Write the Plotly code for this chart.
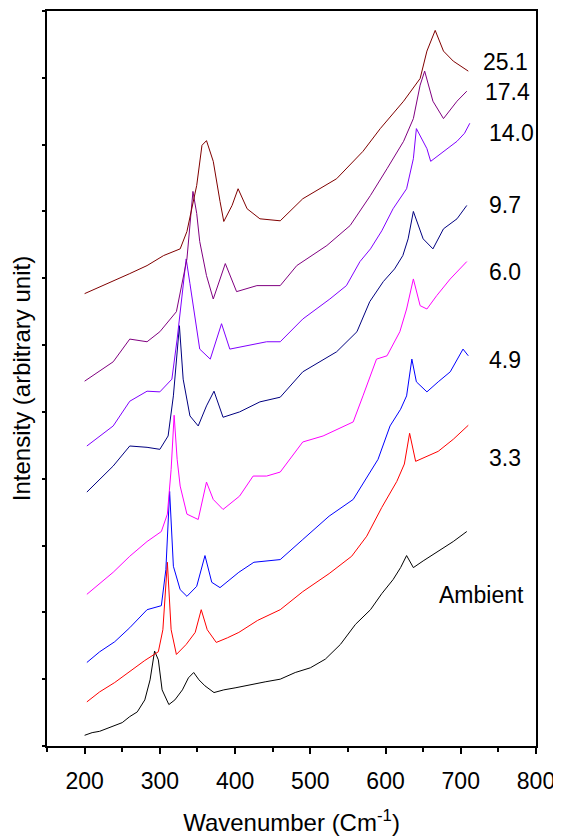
import plotly.graph_objects as go

# ---- data ----
labels = ["Ambient", "3.3", "4.9", "6.0", "9.7", "14.0", "17.4", "25.1"]
colors = ["#000000", "#FF0000", "#0000FF", "#FF00FF", "#000080", "#8000FF", "#800080", "#800000"]

amb_x = [200, 210, 220, 230, 240, 250, 260, 270, 280, 287, 293, 298, 303, 312, 320, 330, 338, 345, 352, 360,
         372, 385, 400, 420, 440, 460, 480, 500, 520, 540, 560, 580, 595, 610, 620, 628, 637, 650, 670, 690, 708]
amb_y = [16, 20, 22, 26, 30, 35, 44, 51, 69, 99, 142, 129, 84, 62, 69, 84, 102, 110, 99, 90,
         80, 84, 87, 92, 96, 100, 110, 117, 130, 152, 182, 204, 228, 249, 267, 285, 267, 277, 291, 306, 321]

p33_x = [203, 220, 240, 260, 280, 298, 304, 310, 315, 322, 335, 347, 355, 363, 375, 390, 405, 430, 460, 490,
         525, 555, 575, 595, 615, 625, 632, 640, 655, 670, 690, 710]
p33_y = [66, 81, 95, 111, 128, 141, 174, 275, 174, 137, 152, 170, 204, 174, 155, 162, 170, 188, 204, 231,
         258, 284, 314, 357, 396, 422, 468, 426, 434, 441, 459, 480]

p49_x = [203, 220, 240, 260, 283, 302, 308, 313, 318, 327, 336, 349, 360, 369, 380, 405, 425, 460, 490, 525,
         557, 575, 590, 606, 620, 628, 635, 641, 655, 670, 686, 703, 710]
p49_y = [125, 141, 156, 177, 204, 210, 264, 381, 269, 234, 224, 239, 285, 245, 237, 260, 275, 279, 309, 344,
         369, 401, 429, 479, 504, 524, 579, 545, 530, 545, 560, 594, 584]

p60_x = [203, 220, 238, 260, 283, 302, 310, 315, 319, 323, 327, 336, 351, 362, 371, 384, 406, 424, 442, 460,
         490, 517, 557, 570, 588, 602, 619, 628, 637, 646, 655, 668, 686, 708]
p60_y = [227, 243, 260, 284, 306, 321, 347, 414, 495, 429, 389, 347, 339, 395, 369, 354, 374, 404, 404, 410,
         455, 464, 485, 524, 579, 584, 620, 654, 699, 659, 654, 674, 699, 725]

p97_x = [203, 220, 238, 260, 283, 300, 311, 318, 322, 326, 331, 340, 351, 362, 372, 384, 406, 433, 460, 490,
         535, 562, 579, 597, 612, 623, 630, 637, 650, 663, 677, 695, 708]
p97_y = [380, 399, 419, 449, 447, 444, 464, 524, 579, 629, 549, 494, 479, 509, 531, 492, 500, 515, 522, 560,
         590, 620, 665, 695, 714, 734, 759, 800, 759, 744, 774, 789, 809]

p140_x = [203, 220, 238, 260, 283, 300, 316, 323, 328, 335, 340, 345, 353, 367, 382, 393, 415, 442, 460, 490,
          526, 548, 566, 580, 595, 610, 628, 637, 641, 648, 655, 660, 677, 695, 705, 712]
p140_y = [449, 464, 479, 516, 531, 530, 549, 609, 662, 729, 692, 654, 594, 579, 632, 594, 599, 605, 605, 639,
          669, 689, 725, 744, 771, 804, 834, 879, 924, 909, 894, 875, 890, 905, 917, 932]

p174_x = [200, 220, 238, 260, 283, 300, 322, 336, 344, 349, 353, 362, 371, 387, 402, 429, 460, 482, 522, 553,
          580, 602, 624, 637, 646, 652, 663, 677, 695, 708]
p174_y = [546, 561, 575, 609, 605, 620, 650, 729, 830, 797, 755, 704, 669, 722, 680, 689, 689, 719, 749, 779,
          824, 864, 905, 939, 989, 1010, 965, 939, 965, 980]

p251_x = [200, 220, 238, 260, 283, 305, 327, 336, 349, 356, 362, 371, 380, 385, 396, 404, 416, 433, 460, 490,
          535, 570, 593, 624, 646, 655, 666, 677, 690, 700, 710]
p251_y = [677, 687, 695, 707, 719, 734, 744, 770, 839, 899, 906, 875, 815, 785, 809, 834, 804, 789, 786, 819,
          849, 890, 924, 965, 999, 1040, 1071, 1040, 1025, 1017, 1010]

series_x = [amb_x, p33_x, p49_x, p60_x, p97_x, p140_x, p174_x, p251_x]
series_y = [amb_y, p33_y, p49_y, p60_y, p97_y, p140_y, p174_y, p251_y]

# label anchor positions (data coordinates)
label_x = [727, 759, 759, 759, 759, 767, 762, 759]
label_y = [226, 431, 578, 710, 810, 918, 979, 1024]

FONT = "Liberation Sans, Arial, sans-serif"

fig = go.Figure()
for name, c, xs, ys in zip(labels, colors, series_x, series_y):
    fig.add_trace(go.Scatter(x=xs, y=ys, mode="lines", name=name,
                             line=dict(color=c, width=1), showlegend=False))

for name, lx, ly in zip(labels, label_x, label_y):
    fig.add_annotation(x=lx, y=ly, text=name, showarrow=False,
                       font=dict(size=23, color="black", family=FONT),
                       xanchor="center", yanchor="middle")

# the page body has an 8px default margin, so the figure is sized to fit the window
fig.update_layout(
    width=553, height=832,
    margin=dict(l=39, r=25, t=3, b=94),
    paper_bgcolor="white", plot_bgcolor="white",
    font=dict(family=FONT, color="black"),
)
fig.update_xaxes(range=[150, 800], dtick=100, tick0=0, automargin=False,
                 ticks="outside", ticklen=6, tickwidth=1.5, tickcolor="black",
                 minor=dict(dtick=50, ticks="outside", ticklen=4, tickcolor="black", tickwidth=1.5),
                 showline=True, linecolor="black", linewidth=1.5, mirror=True,
                 showgrid=False, zeroline=False,
                 tickfont=dict(size=23), ticklabelstandoff=8,
                 title=dict(text="Wavenumber (Cm<sup>-1</sup>)", font=dict(size=24), standoff=21))
fig.update_yaxes(range=[0, 1100], dtick=100, tick0=0, automargin=False,
                 ticks="outside", ticklen=3, tickwidth=1.5, tickcolor="black",
                 showticklabels=False,
                 showline=True, linecolor="black", linewidth=1.5, mirror=True,
                 showgrid=False, zeroline=False,
                 title=dict(text="Intensity (arbitrary unit)", font=dict(size=24), standoff=10))

fig.write_html("out.html")
